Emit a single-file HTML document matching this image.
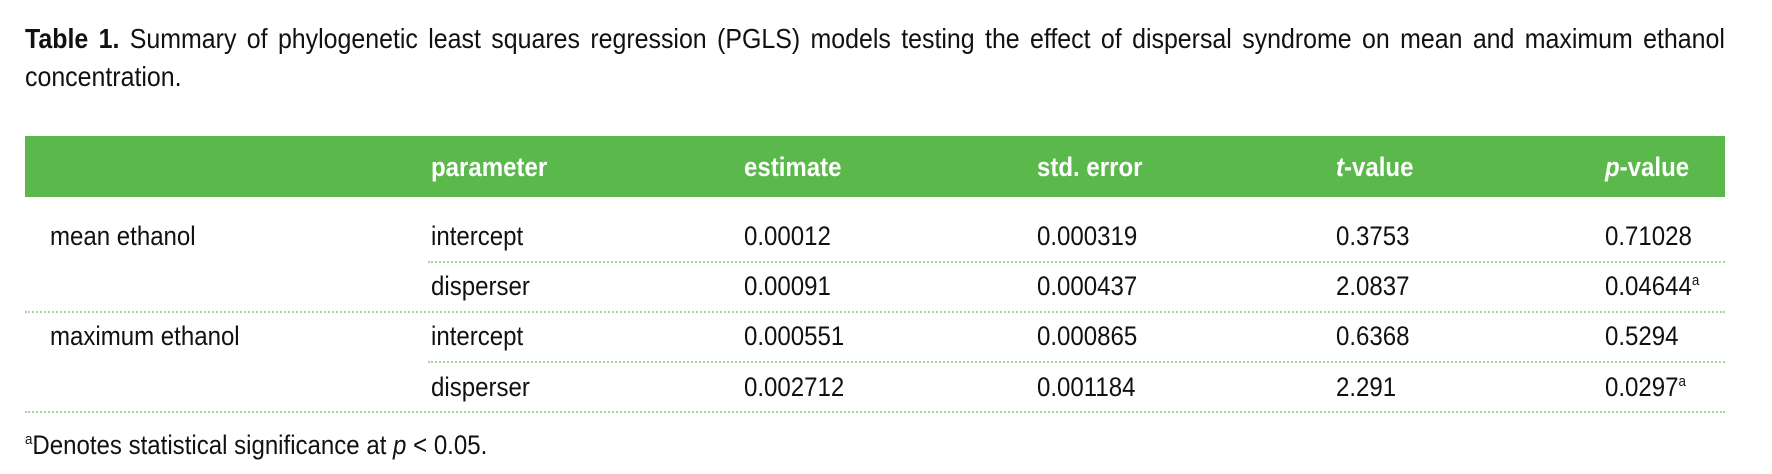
<!DOCTYPE html>
<html><head><meta charset="utf-8"><style>
body{margin:0;width:1772px;height:474px;background:#fff;position:relative;overflow:hidden;font-family:"Liberation Sans Narrow","Liberation Sans",sans-serif;color:#111;font-size:27px}
.a{position:absolute;white-space:nowrap;line-height:1;transform:scaleX(.89);transform-origin:0 0}
.cap{position:absolute;left:25px;width:1910px;top:20px;font-size:28px;line-height:38px;text-align:justify;text-align-last:left;transform:scaleX(.89);transform-origin:0 0}
.band{position:absolute;left:25px;top:136px;width:1700px;height:61px;background:#5bb94b}
.h{color:#fff;font-weight:bold;font-size:27px}
.dot{position:absolute;height:0;border-top:2px dotted #a8d49c}
sup{font-size:15px;vertical-align:10px;line-height:0}
</style></head><body>
<div class="cap"><b>Table 1.</b> Summary of phylogenetic least squares regression (PGLS) models testing the effect of dispersal syndrome on mean and maximum ethanol concentration.</div>
<div class="band"></div>
<div class="a h" style="left:431px;top:154px">parameter</div>
<div class="a h" style="left:744px;top:154px">estimate</div>
<div class="a h" style="left:1037px;top:154px">std. error</div>
<div class="a h" style="left:1336px;top:154px"><i>t</i>-value</div>
<div class="a h" style="left:1605px;top:154px"><i>p</i>-value</div>

<div class="a" style="left:50px;top:223px">mean ethanol</div>
<div class="a" style="left:50px;top:323px">maximum ethanol</div>

<div class="a" style="left:431px;top:223px">intercept</div>
<div class="a" style="left:744px;top:223px">0.00012</div>
<div class="a" style="left:1037px;top:223px">0.000319</div>
<div class="a" style="left:1336px;top:223px">0.3753</div>
<div class="a" style="left:1605px;top:223px">0.71028</div>

<div class="a" style="left:431px;top:273px">disperser</div>
<div class="a" style="left:744px;top:273px">0.00091</div>
<div class="a" style="left:1037px;top:273px">0.000437</div>
<div class="a" style="left:1336px;top:273px">2.0837</div>
<div class="a" style="left:1605px;top:273px">0.04644<sup>a</sup></div>

<div class="a" style="left:431px;top:323px">intercept</div>
<div class="a" style="left:744px;top:323px">0.000551</div>
<div class="a" style="left:1037px;top:323px">0.000865</div>
<div class="a" style="left:1336px;top:323px">0.6368</div>
<div class="a" style="left:1605px;top:323px">0.5294</div>

<div class="a" style="left:431px;top:374px">disperser</div>
<div class="a" style="left:744px;top:374px">0.002712</div>
<div class="a" style="left:1037px;top:374px">0.001184</div>
<div class="a" style="left:1336px;top:374px">2.291</div>
<div class="a" style="left:1605px;top:374px">0.0297<sup>a</sup></div>

<div class="dot" style="left:428px;width:1297px;top:261px"></div>
<div class="dot" style="left:25px;width:1700px;top:311px"></div>
<div class="dot" style="left:428px;width:1297px;top:361px"></div>
<div class="dot" style="left:25px;width:1700px;top:411px"></div>

<div class="a" style="left:25px;top:432px"><sup>a</sup>Denotes statistical significance at <i>p</i> &lt; 0.05.</div>
</body></html>
